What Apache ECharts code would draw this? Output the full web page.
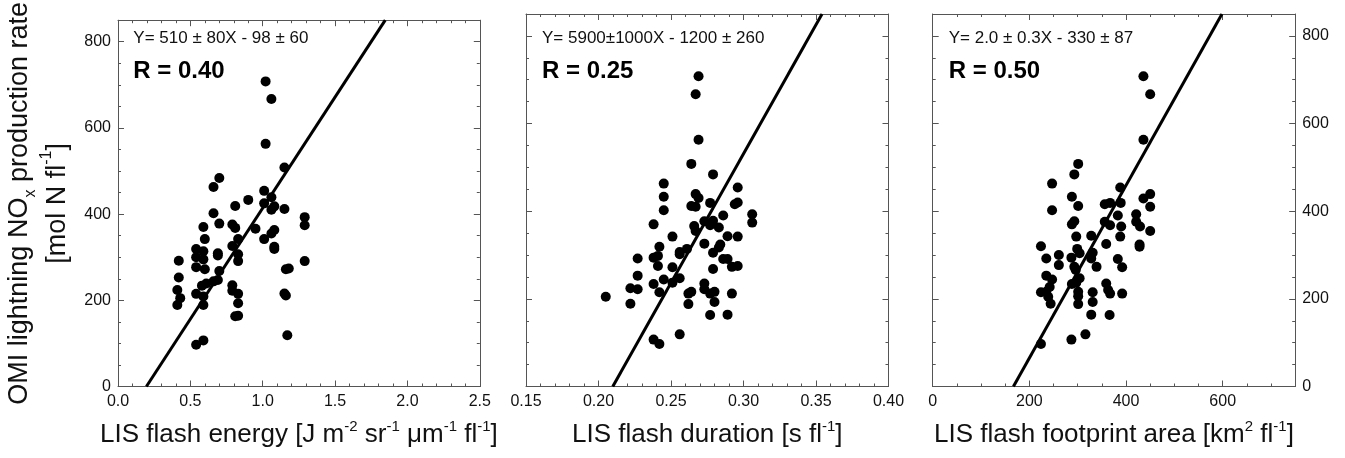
<!DOCTYPE html>
<html><head><meta charset="utf-8">
<script src="https://cdn.jsdelivr.net/npm/echarts@6/dist/echarts.min.js"></script>
<style>html,body{margin:0;padding:0;background:#fff}#c{width:1345px;height:458px}</style>
</head><body><div id="c"></div>
<script>
// ---- data ----
const energyX = [1.02,1.06,1.02,1.15,0.70,0.66,0.90,1.01,0.81,1.01,1.06,1.08,1.06,1.15,0.66,1.29,1.29,0.59,0.70,0.79,0.81,0.95,1.08,1.06,1.01,0.60,0.83,0.79,1.08,1.08,0.54,0.59,0.54,0.59,0.69,0.69,0.83,0.83,0.42,1.29,0.54,0.60,0.70,1.16,1.18,0.42,0.61,0.66,0.69,0.58,0.79,0.41,0.79,0.54,0.83,1.15,1.16,0.43,0.59,0.41,0.59,0.83,0.81,0.83,1.17,0.59,0.54];
const energyY = [708,667,563,508,484,463,433,454,419,425,439,418,410,412,402,393,374,370,378,376,368,366,363,355,342,342,342,326,324,319,319,314,300,295,309,304,307,291,292,291,277,272,268,272,274,253,239,244,247,234,235,224,222,215,215,216,211,205,209,189,189,193,163,164,119,107,97];

const durationX = [0.269,0.267,0.269,0.264,0.279,0.245,0.296,0.245,0.267,0.269,0.277,0.294,0.296,0.264,0.267,0.245,0.306,0.306,0.286,0.273,0.279,0.277,0.238,0.266,0.283,0.267,0.251,0.289,0.296,0.273,0.284,0.283,0.242,0.261,0.256,0.279,0.256,0.227,0.238,0.241,0.286,0.289,0.292,0.296,0.241,0.251,0.279,0.227,0.245,0.256,0.251,0.238,0.222,0.227,0.273,0.273,0.264,0.262,0.280,0.277,0.242,0.292,0.205,0.262,0.280,0.222,0.277,0.289,0.256,0.238,0.242];
const durationY = [708,667,563,508,484,463,454,433,439,430,419,416,420,412,410,402,393,374,390,377,378,368,370,366,363,355,342,343,342,326,324,317,319,314,307,305,302,292,294,298,291,291,273,275,275,272,268,253,244,247,237,234,224,222,235,222,216,212,216,212,215,212,205,188,193,189,163,164,119,107,97];

const areaX = [436,450,436,301,293,247,388,288,450,436,301,356,367,389,450,247,421,383,293,288,356,367,421,429,390,450,328,297,388,359,428,428,224,299,304,331,261,235,287,328,383,261,339,392,293,296,235,247,304,297,288,359,242,224,235,301,331,363,367,392,239,301,244,301,331,328,366,316,287,224];
const areaY = [708,667,563,508,484,463,454,433,439,429,412,416,419,419,410,402,393,390,377,370,376,368,376,365,365,355,344,342,342,325,324,319,320,314,304,305,300,292,294,292,291,277,273,272,273,266,253,244,247,237,234,235,227,215,216,216,215,220,212,212,205,206,189,188,193,164,163,119,107,97];

// fitted regression lines (slope, intercept) as drawn in the picture
const fitSlope = [515, 5890, 1.97];
const fitIntercept = [-101, -1236, -329];

const fitLabels = ['Y= 510 \u00b1 80X - 98 \u00b1 60', 'Y= 5900\u00b11000X - 1200 \u00b1 260', 'Y= 2.0 \u00b1 0.3X - 330 \u00b1 87'];
const rLabels = ['R = 0.40', 'R = 0.25', 'R = 0.50'];

const xTitles = [
  'LIS flash energy [J m{s|-2} sr{s|-1} \u03bcm{s|-1} fl{s|-1}]',
  'LIS flash duration [s fl{s|-1}]',
  'LIS flash footprint area [km{s|2} fl{s|-1}]'
];
const yTitle = 'OMI lightning NO{b|x} production rate\n[mol N fl{s|-1}]';

const xMins = [0, 0.15, 0];
const xMaxs = [2.5, 0.40, 750];
const xMajor = [0.5, 0.05, 200];
const xMinor = [0.1, 0.01, 50];
const xDecimals = [1, 2, 0];
const yMin = 0, yMax = 850, yMajor = 200, yMinor = 50;

// ---- layout / styles ----
const FONT = '"Liberation Sans", Arial, Helvetica, sans-serif';
const AX = '#555';
const TXT = '#111';
const gridLefts = [117.3, 526, 932.7];
const gridWidth = 362.5;
const gridTop = 14, gridBottom = 71.5;

const xs = [energyX, durationX, areaX];
const ys = [energyY, durationY, areaY];

const grids = [], xAxes = [], yAxes = [], series = [], graphics = [];

function supRich(){
  return {
    s: {fontSize: 15, lineHeight: 18, verticalAlign: 'top', fontFamily: FONT, color: TXT},
    b: {fontSize: 16, lineHeight: 14, verticalAlign: 'bottom', fontFamily: FONT, color: TXT}
  };
}

for (let i = 0; i < 3; i++) {
  grids.push({left: gridLefts[i], width: gridWidth, top: gridTop, bottom: gridBottom, containLabel: false});
  const dec = xDecimals[i];
  const xBase = {type: 'value', gridIndex: i, min: xMins[i], max: xMaxs[i], splitLine: {show: false}, scale: true};
  const xMainIdx = xAxes.length;
  xAxes.push(Object.assign({}, xBase, {
    position: 'bottom', interval: xMajor[i],
    axisLine: {show: true, onZero: false, lineStyle: {color: AX, width: 1}},
    axisTick: {show: true, inside: true, length: 6, lineStyle: {color: AX}},
    axisLabel: {show: true, margin: 7, fontSize: 16, fontFamily: FONT, color: TXT,
      showMaxLabel: i !== 2, showMinLabel: true,
      formatter: v => Number(v).toFixed(dec)},
    name: xTitles[i], nameLocation: 'middle', nameGap: 33,
    nameTextStyle: {fontSize: 26, fontFamily: FONT, color: TXT, lineHeight: 30, rich: supRich()}
  }));
  xAxes.push(Object.assign({}, xBase, {
    position: 'bottom', interval: xMinor[i],
    axisLine: {show: false, onZero: false},
    axisTick: {show: true, inside: true, length: 3, lineStyle: {color: AX}},
    axisLabel: {show: false}
  }));
  xAxes.push(Object.assign({}, xBase, {
    position: 'top', interval: xMajor[i],
    axisLine: {show: true, onZero: false, lineStyle: {color: AX, width: 1}},
    axisTick: {show: true, inside: true, length: 6, lineStyle: {color: AX}},
    axisLabel: {show: false}
  }));
  xAxes.push(Object.assign({}, xBase, {
    position: 'top', interval: xMinor[i],
    axisLine: {show: false, onZero: false},
    axisTick: {show: true, inside: true, length: 3, lineStyle: {color: AX}},
    axisLabel: {show: false}
  }));

  const yBase = {type: 'value', gridIndex: i, min: yMin, max: yMax, splitLine: {show: false}};
  const yMainIdx = yAxes.length;
  const leftMajor = Object.assign({}, yBase, {
    position: 'left', interval: yMajor,
    axisLine: {show: true, onZero: false, lineStyle: {color: AX, width: 1}},
    axisTick: {show: true, inside: true, length: 6, lineStyle: {color: AX}},
    axisLabel: {show: i === 0, margin: 7, fontSize: 16, fontFamily: FONT, color: TXT, showMaxLabel: false}
  });
  if (i === 0) {
    Object.assign(leftMajor, {
      name: yTitle, nameLocation: 'middle', nameRotate: 90, nameGap: 41,
      nameTextStyle: {fontSize: 27, fontFamily: FONT, color: TXT, lineHeight: 38, align: 'center',
        rich: {
          s: {fontSize: 16, lineHeight: 24, verticalAlign: 'top', fontFamily: FONT, color: TXT},
          b: {fontSize: 16, lineHeight: 16, verticalAlign: 'bottom', fontFamily: FONT, color: TXT}
        }}
    });
  }
  yAxes.push(leftMajor);
  yAxes.push(Object.assign({}, yBase, {
    position: 'left', interval: yMinor,
    axisLine: {show: false, onZero: false},
    axisTick: {show: true, inside: true, length: 3, lineStyle: {color: AX}},
    axisLabel: {show: false}
  }));
  yAxes.push(Object.assign({}, yBase, {
    position: 'right', interval: yMajor,
    axisLine: {show: true, onZero: false, lineStyle: {color: AX, width: 1}},
    axisTick: {show: true, inside: true, length: 6, lineStyle: {color: AX}},
    axisLabel: {show: i === 2, margin: 7, fontSize: 16, fontFamily: FONT, color: TXT, showMaxLabel: false}
  }));
  yAxes.push(Object.assign({}, yBase, {
    position: 'right', interval: yMinor,
    axisLine: {show: false, onZero: false},
    axisTick: {show: true, inside: true, length: 3, lineStyle: {color: AX}},
    axisLabel: {show: false}
  }));

  series.push({
    type: 'scatter', xAxisIndex: xMainIdx, yAxisIndex: yMainIdx,
    data: xs[i].map((x, k) => [x, ys[i][k]]),
    symbol: 'circle', symbolSize: 10, itemStyle: {color: '#000', opacity: 1}, z: 3
  });
  const a = fitSlope[i], b = fitIntercept[i];
  series.push({
    type: 'line', xAxisIndex: xMainIdx, yAxisIndex: yMainIdx,
    data: [[(yMin - b) / a, yMin], [(yMax - b) / a, yMax]],
    showSymbol: false, symbol: 'none', lineStyle: {color: '#000', width: 3}, z: 4, silent: true
  });

  graphics.push({type: 'text', x: gridLefts[i] + 16, y: 38,
    style: {text: fitLabels[i], font: '17px ' + FONT, fill: TXT, verticalAlign: 'middle', align: 'left'}});
  graphics.push({type: 'text', x: gridLefts[i] + 16, y: 71,
    style: {text: rLabels[i], font: 'bold 24px ' + FONT, fill: '#000', verticalAlign: 'middle', align: 'left'}});
}

const chart = echarts.init(document.getElementById('c'), null, {renderer: 'canvas'});
chart.setOption({
  animation: false,
  backgroundColor: '#fff',
  grid: grids, xAxis: xAxes, yAxis: yAxes, series: series, graphic: graphics
});
</script></body></html>
